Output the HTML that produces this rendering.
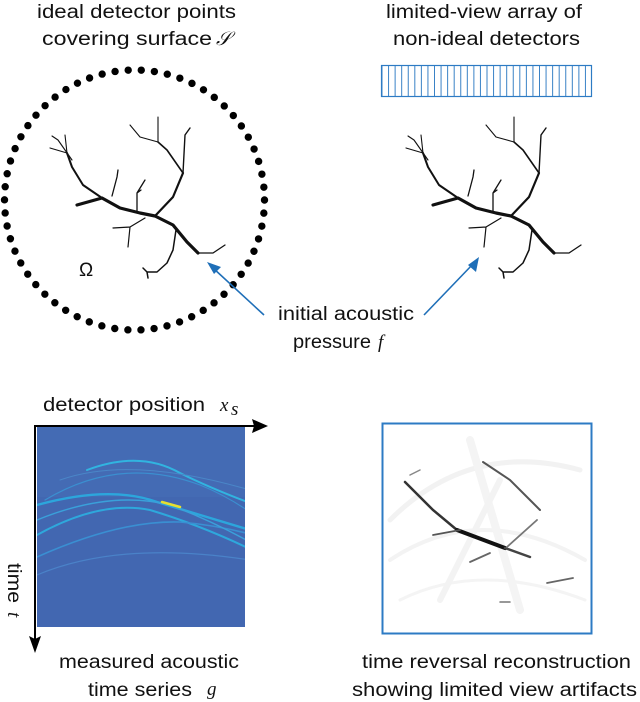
<!DOCTYPE html>
<html><head><meta charset="utf-8"><style>
html,body{margin:0;padding:0;background:#fff;width:640px;height:702px;overflow:hidden}
svg{display:block}
text{font-family:"Liberation Sans",sans-serif;font-size:19px;fill:#111}
.m{font-family:"Liberation Serif",serif;font-style:italic}
</style></head><body>
<svg width="640" height="702" viewBox="0 0 640 702" xmlns="http://www.w3.org/2000/svg">
<defs>
<clipPath id="cp"><rect x="37" y="427" width="208" height="200"/></clipPath>
<clipPath id="cp2"><rect x="384" y="425" width="206" height="207"/></clipPath>
<g id="tree" fill="none" stroke="#111" stroke-linecap="round" stroke-linejoin="round">
  <path d="M77,205 L102,198 L120,208 L140,213 L155,216 L173,225 L187,242 L198,253" stroke-width="3.2"/>
  <path d="M198,253 L213,253 L225,245" stroke-width="1.3"/>
  <path d="M102,198 L83,185 L72,167 L67,153" stroke-width="2"/>
  <path d="M67,153 L65,135 M67,153 L50,148 M72,160 L58,140 M58,140 L52,136" stroke-width="1.1"/>
  <path d="M112,196 L117,177 L118,170" stroke-width="1.3"/>
  <path d="M137,211 L137,193 L145,180 M137,193 L141,190" stroke-width="1.3"/>
  <path d="M155,216 L173,197 L183,173" stroke-width="2.2"/>
  <path d="M183,173 L185,135 L190,128" stroke-width="1.4"/>
  <path d="M183,173 L167,150 L158,142" stroke-width="1.6"/>
  <path d="M158,142 L158,117 M158,142 L140,137 L130,125" stroke-width="1.1"/>
  <path d="M145,218 L130,227 L113,228 M130,227 L128,247" stroke-width="1.2"/>
  <path d="M176,230 L173,250 L167,263 L157,272 L147,272 L143,268 M147,272 L148,278" stroke-width="1.5"/>
</g>
</defs>

<text x="37" y="18" textLength="199" lengthAdjust="spacingAndGlyphs">ideal detector points</text>
<text x="42" y="45" textLength="170" lengthAdjust="spacingAndGlyphs">covering surface</text>
<text x="216" y="45" class="m" font-size="20">𝒮</text>
<text x="386" y="18" textLength="196" lengthAdjust="spacingAndGlyphs">limited-view array of</text>
<text x="393" y="45" textLength="187" lengthAdjust="spacingAndGlyphs">non-ideal detectors</text>

<!-- dotted circle -->
<circle cx="134.5" cy="200" r="130" fill="none" stroke="#000" stroke-width="7.4" stroke-linecap="round" stroke-dasharray="0 13.174"/>

<use href="#tree"/>
<use href="#tree" transform="translate(356,0)"/>
<text x="79" y="276" font-family="Liberation Serif, serif" font-size="19">Ω</text>

<!-- detector array -->
<line x1="381.5" y1="81" x2="591.5" y2="81" stroke="#3a82c6" stroke-width="31" stroke-dasharray="1 5.5625"/>
<rect x="381.5" y="65.5" width="210" height="31" fill="none" stroke="#2d7bc4" stroke-width="1.2"/>

<!-- arrows -->
<g stroke="#1f6fb8" stroke-width="1.6" fill="#1f6fb8">
  <line x1="264" y1="315" x2="213" y2="268"/>
  <polygon points="207,262 221,267 214,274" stroke="none"/>
  <line x1="424" y1="315" x2="473" y2="264"/>
  <polygon points="479,257 476,272 468,265" stroke="none"/>
</g>
<text x="278" y="320" textLength="136" lengthAdjust="spacingAndGlyphs">initial acoustic</text>
<text x="293" y="348" textLength="78" lengthAdjust="spacingAndGlyphs">pressure</text>
<text x="378" y="348" class="m" font-size="20">f</text>

<!-- measured data -->
<text x="43" y="411" textLength="162" lengthAdjust="spacingAndGlyphs">detector position</text>
<text x="220" y="411" class="m" font-size="20">x</text>
<text x="231" y="415" class="m" font-size="13">s</text>
<rect x="37" y="427" width="208" height="200" fill="#4267b1"/>
<rect x="37" y="427" width="208" height="70" fill="#4570b8" opacity="0.5"/>
<g fill="none" stroke-linecap="round" clip-path="url(#cp)">
  <path d="M37,505 Q110,485 157,502 Q200,515 250,530" stroke="#2ca6dc" stroke-width="2.4"/>
  <path d="M87,470 Q140,450 180,473 Q210,488 250,503" stroke="#31b4e0" stroke-width="2"/>
  <path d="M37,535 Q100,500 150,510 Q200,525 250,549" stroke="#2ea8dc" stroke-width="2"/>
  <path d="M37,557 Q120,520 180,522 Q215,525 250,534" stroke="#3a8fd2" stroke-width="1.6"/>
  <path d="M37,520 Q110,490 170,505 Q210,520 250,542" stroke="#3aa0da" stroke-width="1.4"/>
  <path d="M45,500 Q120,455 200,485 Q225,495 250,512" stroke="#3b8fd0" stroke-width="1.2"/>
  <path d="M37,575 Q120,540 250,560" stroke="#4a82c8" stroke-width="1.2"/>
  <path d="M60,480 Q130,455 250,490" stroke="#4a86c8" stroke-width="1"/>
  <path d="M162,502 L180,507" stroke="#e6e030" stroke-width="2.5"/>
</g>
<g stroke="#000" stroke-width="2" fill="#000">
  <line x1="35" y1="426" x2="258" y2="426"/>
  <polygon points="268,426 252,419 254,426 252,433" stroke="none"/>
  <line x1="35" y1="425" x2="35" y2="642"/>
  <polygon points="35,653 29,636 35,639 41,636" stroke="none"/>
</g>
<text transform="translate(8,563) rotate(90)" textLength="40" lengthAdjust="spacingAndGlyphs">time</text>
<text transform="translate(8,612) rotate(90)" class="m" font-size="19">t</text>
<text x="59" y="668" textLength="180" lengthAdjust="spacingAndGlyphs">measured acoustic</text>
<text x="88" y="696" textLength="104" lengthAdjust="spacingAndGlyphs">time series</text>
<text x="207" y="695" class="m" font-size="20">g</text>

<!-- reconstruction -->
<rect x="382.5" y="423.5" width="209" height="210" fill="#fff" stroke="#2d7bc4" stroke-width="2"/>
<g fill="none" stroke-linecap="round" clip-path="url(#cp2)">
  <path d="M390,520 Q470,440 580,470" stroke="#f2f2f2" stroke-width="5"/>
  <path d="M390,560 Q480,500 585,560" stroke="#f3f3f3" stroke-width="4"/>
  <path d="M400,600 Q480,560 585,600" stroke="#f4f4f4" stroke-width="3"/>
  <path d="M470,440 L520,610" stroke="#f4f4f4" stroke-width="8"/>
  <path d="M500,480 L440,600" stroke="#f3f3f3" stroke-width="6"/>
  <path d="M405,482 L420,497 L433,510 L457,530" stroke="#333" stroke-width="2.5"/>
  <path d="M457,530 L505,548" stroke="#111" stroke-width="4"/>
  <path d="M505,548 L530,557" stroke="#444" stroke-width="2.5"/>
  <path d="M483,462 L510,480 L530,500 L540,510" stroke="#555" stroke-width="2"/>
  <path d="M433,535 L460,530" stroke="#555" stroke-width="1.8"/>
  <path d="M507,547 L537,520" stroke="#777" stroke-width="1.8"/>
  <path d="M470,562 L490,553" stroke="#666" stroke-width="1.8"/>
  <path d="M547,583 L573,578" stroke="#666" stroke-width="1.8"/>
  <path d="M500,602 L510,602" stroke="#777" stroke-width="1.5"/>
  <path d="M410,475 L420,470" stroke="#888" stroke-width="1.5"/>
</g>
<text x="362" y="668" textLength="269" lengthAdjust="spacingAndGlyphs">time reversal reconstruction</text>
<text x="352" y="696" textLength="285" lengthAdjust="spacingAndGlyphs">showing limited view artifacts</text>
</svg>
</body></html>
